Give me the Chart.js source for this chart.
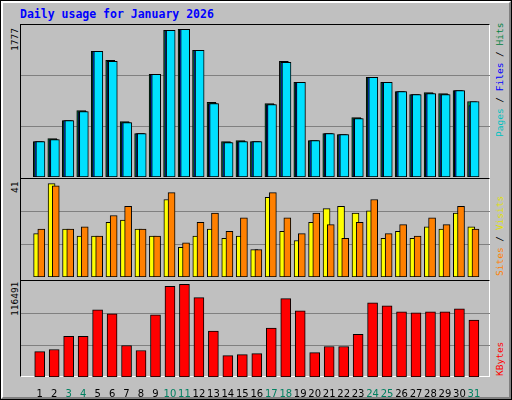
<!DOCTYPE html>
<html><head><meta charset="utf-8">
<script src="https://cdn.jsdelivr.net/npm/chart.js@4/dist/chart.umd.min.js"></script>
<style>
body{margin:0;width:512px;height:400px;overflow:hidden;background:#fff}
#frame{position:absolute;left:0;top:0;width:510px;height:398px;border:1px solid #000;background:#c0c0c0}
#frame:after{content:"";position:absolute;left:0;top:0;width:506px;height:394px;border-top:2px solid #fff;border-left:2px solid #fff;border-right:2px solid #808080;border-bottom:2px solid #808080}
.pa{position:absolute;left:20px;width:470px;border-top:1px solid #000;border-left:1px solid #000;border-right:1px solid #fff;box-sizing:border-box}
canvas{position:absolute}
.rot{position:absolute;transform-origin:0 0;transform:rotate(-90deg);white-space:nowrap;font:9.5px "DejaVu Sans Mono",monospace;line-height:10px}
#title{position:absolute;left:20px;top:7px;font:bold 11.5px "DejaVu Sans Mono",monospace;color:#0000ff}
</style></head><body>
<div id="frame"></div>
<div id="title">Daily usage for January 2026</div>
<div class="pa" style="top:24px;height:154px"></div>
<div class="pa" style="top:178px;height:102px"></div>
<div class="pa" style="top:280px;height:97px;border-bottom:1px solid #fff"></div>
<canvas id="c1" style="left:21px;top:25px;width:469px;height:152px"></canvas>
<canvas id="c2" style="left:21px;top:179px;width:469px;height:98px"></canvas>
<canvas id="c3" style="left:21px;top:281px;width:469px;height:118px"></canvas>
<div class="rot" style="left:10px;top:51px;color:#000">1777</div>
<div class="rot" style="left:10px;top:193px;color:#000">41</div>
<div class="rot" style="left:10px;top:316px;color:#000">116491</div>
<div class="rot" style="left:495px;top:137px"><span style="color:#00c0c0">Pages</span> / <span style="color:#0000ff">Files</span> / <span style="color:#008040">Hits</span></div>
<div class="rot" style="left:495px;top:276px"><span style="color:#ff8000">Sites</span> / <span style="color:#e0e000">Visits</span></div>
<div class="rot" style="left:495px;top:376px;color:#ff0000">KBytes</div>
<script>
const days=[1,2,3,4,5,6,7,8,9,10,11,12,13,14,15,16,17,18,19,20,21,22,23,24,25,26,27,28,29,30,31];
const weekend=[3,4,10,11,17,18,24,25,31];
const hits=[426,462,679,800,1512,1403,667,523,1234,1765,1777,1524,897,426,438,426,884,1391,1138,438,523,511,716,1198,1138,1029,993,1017,1005,1041,909];
const files=[426,450,679,788,1512,1391,655,523,1234,1765,1777,1524,884,414,426,426,872,1379,1138,438,523,511,704,1198,1138,1029,993,1005,993,1041,860];
const pages=[426,450,679,788,1512,1391,655,523,1234,1765,1777,1524,884,414,426,426,872,1379,1138,438,523,511,704,1198,1138,1029,993,1005,993,1041,909];
const visits=[19,41,21,18,18,24,25,21,18,34,13,18,21,17,18,12,35,20,16,24,30,31,28,29,17,20,17,22,21,28,22];
const sites=[21,40,21,22,18,27,31,21,18,37,15,24,28,20,26,12,37,26,19,28,23,17,24,34,19,23,18,26,23,31,21];
const kbytes=[32000,34560,51200,51200,84490,79370,39680,33280,78090,113930,116491,99850,57610,26880,28160,29440,61450,98570,83210,30720,38400,38400,53770,93450,89610,81930,80650,81930,81930,85770,71690];

function ds(vals,off,color,w,ord){return{data:vals.map((v,i)=>({x:days[i]+off,y:v})),backgroundColor:color,borderColor:'#000',borderWidth:1,borderSkipped:false,barThickness:w,grouped:false,order:ord};}
function mk(id,sets,max,showX){
  return new Chart(document.getElementById(id),{type:'bar',data:{datasets:sets},
  options:{responsive:false,animation:false,events:[],layout:{padding:0},
   plugins:{legend:{display:false},tooltip:{enabled:false}},
   scales:{
    x:{type:'linear',min:0.23,max:31.59,display:showX,grid:{display:false},border:{display:false},
       afterBuildTicks:s=>{s.ticks=days.map(v=>({value:v}));},
       afterFit:s=>{s.height=showX?22:0;},
       ticks:{autoSkip:false,maxRotation:0,padding:3,font:{family:'DejaVu Sans',size:10},
         color:c=>weekend.includes(c.tick.value)?'#008060':'#000',callback:v=>String(v)}},
    y:{min:0,max:max,display:true,border:{display:false},
       afterBuildTicks:s=>{s.ticks=[{value:max/3},{value:2*max/3}];},
       afterFit:s=>{s.width=0;},
       ticks:{display:false},grid:{color:'#808080',lineWidth:1,drawTicks:false}}}}});
}
function setup(id,w,h){const c=document.getElementById(id);c.width=w;c.height=h;}
setup('c1',469,152);setup('c2',469,98);setup('c3',469,118);
mk('c1',[ds(hits,-0.13,'#008040',9,3),ds(files,-0.04,'#0040ff',9,2),ds(pages,0.05,'#00e0ff',9,1)],1829,false);
mk('c2',[ds(visits,-0.18,'#ffff00',7,2),ds(sites,0.11,'#ff8000',7,1)],43,false);
mk('c3',[ds(kbytes,0,'#ff0000',10,1)],120758,true);
</script></body></html>
